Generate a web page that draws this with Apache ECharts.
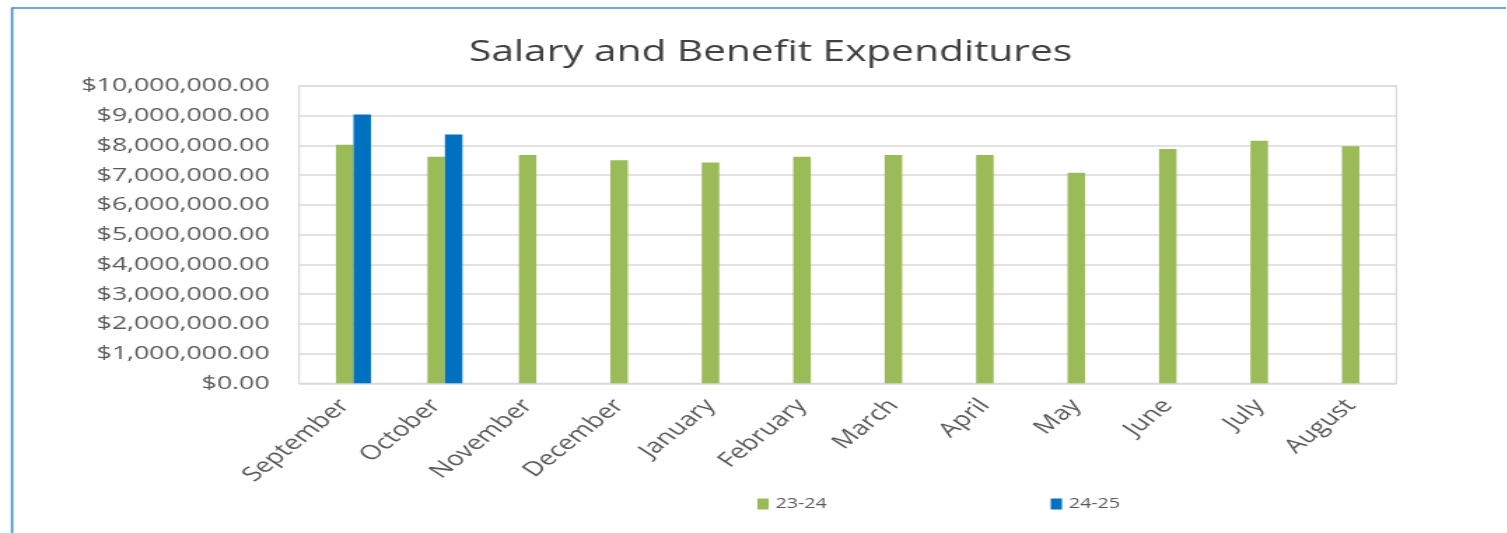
<!DOCTYPE html>
<html>
<head>
<meta charset="utf-8">
<script src="https://cdn.jsdelivr.net/npm/echarts@6/dist/echarts.min.js"></script>
<style>
  html, body { margin: 0; padding: 0; background: #ffffff; width: 1507px; height: 533px; overflow: hidden; }
  #chart { width: 1076.43px; height: 533px; transform: scaleX(1.4); transform-origin: 0 0; }
</style>
</head>
<body>
<div id="chart"></div>
<script>
// Data
const categories = ['September', 'October', 'November', 'December', 'January', 'February',
                    'March', 'April', 'May', 'June', 'July', 'August'];
const series2324 = [8020000, 7620000, 7680000, 7500000, 7430000, 7620000,
                    7680000, 7680000, 7080000, 7880000, 8160000, 7970000];
const series2425 = [9040000, 8370000, null, null, null, null,
                    null, null, null, null, null, null];
const seriesNames = ['23-24', '24-25'];
const yTicks = [0, 1000000, 2000000, 3000000, 4000000, 5000000,
                6000000, 7000000, 8000000, 9000000, 10000000];
const titleText = 'Salary and Benefit Expenditures';

const FONT = '"Open Sans", "Noto Sans", sans-serif';
const fmtMoney = v => '$' + Number(v).toLocaleString('en-US', { minimumFractionDigits: 2, maximumFractionDigits: 2 });

const chart = echarts.init(document.getElementById('chart'), null, { renderer: 'canvas' });
chart.setOption({
  backgroundColor: '#ffffff',
  animation: false,
  textStyle: { fontFamily: FONT },
  graphic: [{
    type: 'rect',
    shape: { x: 8.6, y: 8, width: 2000, height: 2000 },
    style: { fill: 'none', stroke: '#3E8BD0', lineWidth: 1.6 },
    silent: true, z: 0
  }],
  title: {
    text: titleText,
    left: 335,
    top: 38,
    padding: 0,
    textStyle: { fontFamily: FONT, fontSize: 29, fontWeight: 'normal', color: '#404040' }
  },
  legend: {
    data: seriesNames,
    left: 536,
    top: 492,
    itemWidth: 8,
    itemHeight: 11,
    itemGap: 160,
    icon: 'rect',
    textStyle: { fontFamily: FONT, fontSize: 14, color: '#595959' }
  },
  grid: {
    left: 213.57,
    right: 78.57,
    top: 86,
    bottom: 149.7,
    show: true,
    borderColor: '#D9D9D9',
    borderWidth: 1.2,
    containLabel: false
  },
  xAxis: {
    type: 'category',
    data: categories,
    axisLine: { show: true, lineStyle: { color: '#D9D9D9', width: 1.2 } },
    axisTick: { show: false },
    axisLabel: {
      rotate: 48,
      margin: 19,
      interval: 0,
      fontFamily: FONT,
      fontSize: 20,
      color: '#595959'
    }
  },
  yAxis: {
    type: 'value',
    min: yTicks[0],
    max: yTicks[yTicks.length - 1],
    interval: yTicks[1] - yTicks[0],
    axisLine: { show: false },
    axisTick: { show: false },
    splitLine: { show: true, lineStyle: { color: '#D9D9D9', width: 1.5 } },
    axisLabel: {
      margin: 21,
      fontFamily: FONT,
      fontSize: 19,
      color: '#595959',
      formatter: fmtMoney
    }
  },
  series: [
    {
      name: '_spacer',
      type: 'bar',
      data: categories.map(() => null),
      barWidth: 12.5,
      barGap: '0%',
      silent: true
    },
    {
      name: seriesNames[0],
      type: 'bar',
      data: series2324,
      barWidth: 12.5,
      barGap: '0%',
      itemStyle: { color: '#9BBB59' }
    },
    {
      name: seriesNames[1],
      type: 'bar',
      data: series2425,
      barWidth: 12.5,
      barGap: '0%',
      itemStyle: { color: '#0070C0' }
    }
  ]
});
</script>
</body>
</html>
